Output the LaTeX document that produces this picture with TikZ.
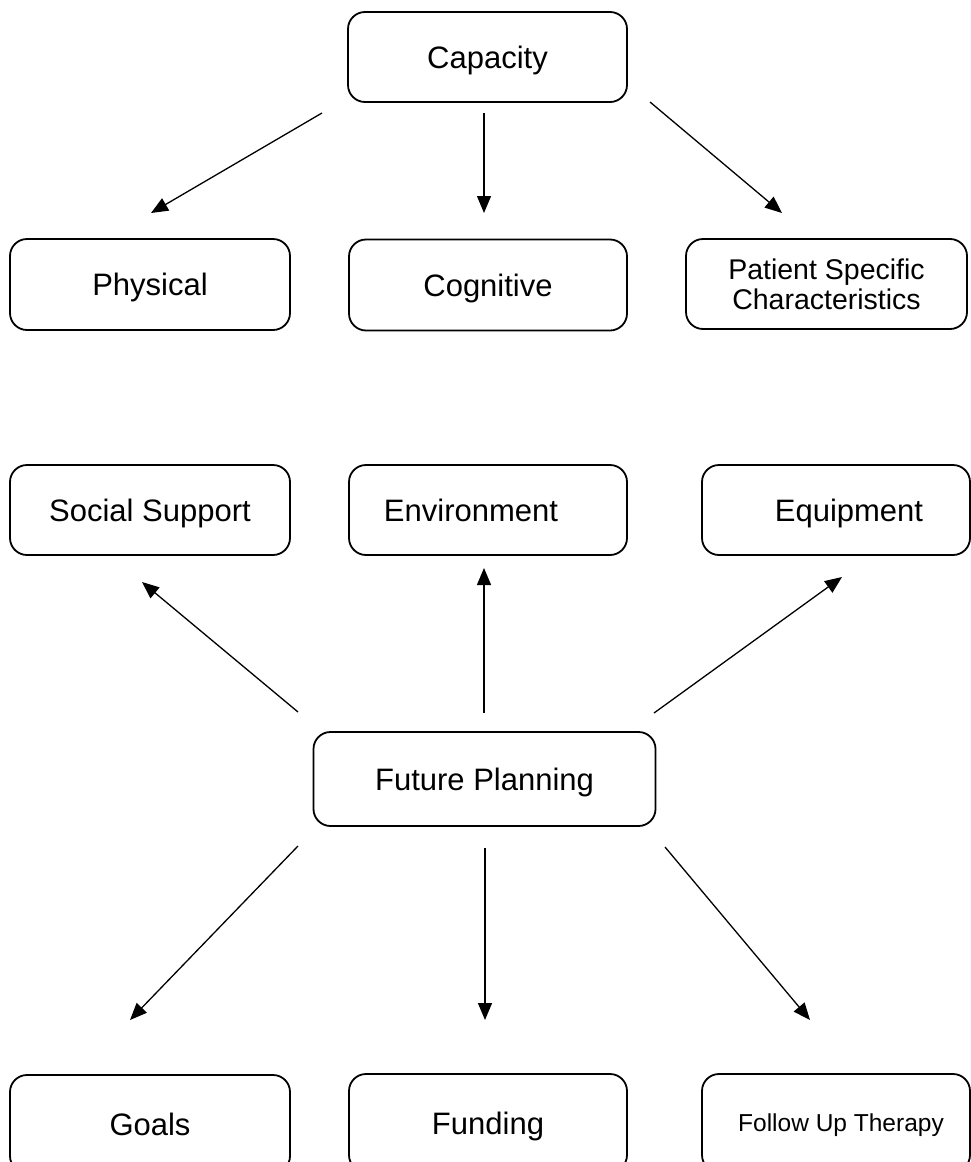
\documentclass[tikz,border=0pt]{standalone}
\usepackage{fontspec}
\setmainfont{Liberation Sans}
\usetikzlibrary{arrows.meta}
\tikzset{
  box/.style={draw=black, line width=1.8pt, rounded corners=17pt, inner sep=0pt, align=center,
    font=\fontsize{31}{36}\selectfont},
  oneline/.style={text height=22pt, text depth=0pt},
  conn/.style={line width=1.3pt, -{Triangle[length=17pt,width=14pt]}}
}
\begin{document}
\begin{tikzpicture}[x=1pt,y=-1pt]
\useasboundingbox (0,0) rectangle (971,1162);
\clip (0,0) rectangle (971,1162);
% nodes
\node[box, oneline, minimum width=279pt, minimum height=90pt] (cap) at (487.5,57) {Capacity};
\node[box, oneline, minimum width=280pt, minimum height=91pt] (phys) at (150,284.5) {Physical};
\node[box, oneline, minimum width=278pt, minimum height=91pt] (cog) at (488,285) {Cognitive};
\node[box, minimum width=281pt, minimum height=90pt, font=\fontsize{28.5}{30}\selectfont] (pat) at (826.5,284) {Patient Specific\\Characteristics};
\node[box, oneline, minimum width=280pt, minimum height=90pt] (soc) at (150,510) {Social Support};
\node[box, oneline, minimum width=278pt, minimum height=90pt] (env) at (488,510) {Environment\hspace*{34pt}};
\node[box, oneline, minimum width=268pt, minimum height=90pt] (equ) at (836,510) {\hspace*{26pt}Equipment};
\node[box, oneline, minimum width=342pt, minimum height=94pt] (fp) at (484.5,779) {Future Planning};
\node[box, oneline, minimum width=280pt, minimum height=98pt] (goals) at (150,1124) {Goals};
\node[box, oneline, minimum width=278pt, minimum height=98pt] (fund) at (488,1123) {Funding};
\node[box, minimum width=268pt, minimum height=98pt, font=\fontsize{24.5}{28}\selectfont, text height=17.5pt, text depth=0pt] (fut) at (836,1123) {\hspace*{10pt}Follow Up Therapy};
% connector end points
\coordinate (c1s) at (322,113); \coordinate (c1e) at (151,213);
\coordinate (c2s) at (484,113); \coordinate (c2e) at (484,213);
\coordinate (c3s) at (650,102); \coordinate (c3e) at (782,213);
\coordinate (u1s) at (298,712); \coordinate (u1e) at (142,582);
\coordinate (u2s) at (484,713); \coordinate (u2e) at (484,568);
\coordinate (u3s) at (654,713); \coordinate (u3e) at (842,577);
\coordinate (d1s) at (298,846); \coordinate (d1e) at (130,1020);
\coordinate (d2s) at (485,848); \coordinate (d2e) at (485,1020);
\coordinate (d3s) at (665,847); \coordinate (d3e) at (810,1020);
% connectors
\draw[conn] (c1s) -- (c1e);
\draw[conn] (c2s) -- (c2e);
\draw[conn] (c3s) -- (c3e);
\draw[conn] (u1s) -- (u1e);
\draw[conn] (u2s) -- (u2e);
\draw[conn] (u3s) -- (u3e);
\draw[conn] (d1s) -- (d1e);
\draw[conn] (d2s) -- (d2e);
\draw[conn] (d3s) -- (d3e);
\end{tikzpicture}
\end{document}
